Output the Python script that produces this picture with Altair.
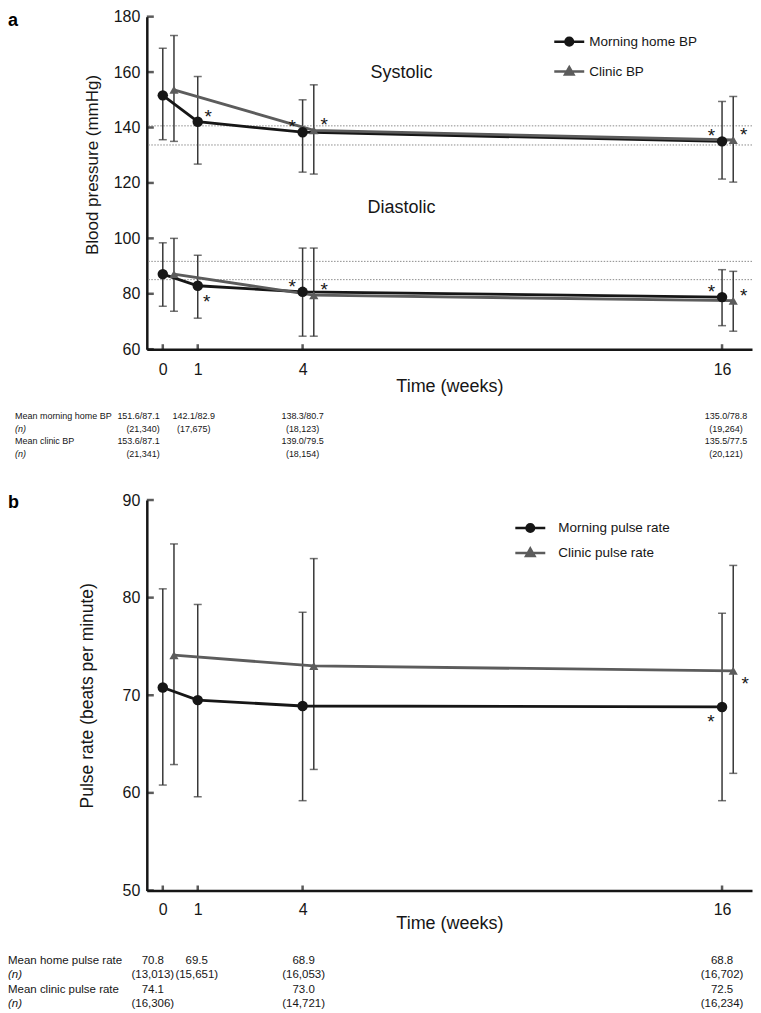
import altair as alt
import pandas as pd

FONT = "Liberation Sans"
INK = "#161616"
GREY = "#5c5c5c"
BAR = "#383838"
REF = "#8c8c8c"

# ---------------- data ----------------
WEEKS = [0, 1, 4, 16]
CLINIC_WEEKS = [0, 4, 16]

# panel a : blood pressure (mmHg), mean and error-bar ends
BP_HOME, BP_CLINIC = "Morning home BP", "Clinic BP"
home_sys_mean = [151.6, 142.1, 138.3, 135.0]
home_sys_lo = [135.6, 126.8, 123.9, 121.4]
home_sys_hi = [168.6, 158.4, 150.0, 149.4]
clinic_sys_mean = [153.6, 139.0, 135.5]
clinic_sys_lo = [135.0, 123.2, 120.3]
clinic_sys_hi = [173.2, 155.4, 151.2]
home_dia_mean = [87.1, 82.9, 80.7, 78.8]
home_dia_lo = [75.5, 71.2, 64.7, 68.5]
home_dia_hi = [98.4, 93.9, 96.5, 88.7]
clinic_dia_mean = [87.1, 79.5, 77.5]
clinic_dia_lo = [73.7, 64.7, 66.5]
clinic_dia_hi = [100.0, 96.5, 88.1]
bp_reference_lines = [140.6, 133.7, 91.7, 85.1]
bp_yticks = [60, 80, 100, 120, 140, 160, 180]
bp_stars = [  # (series, measure, week, side)
    (BP_HOME, "systolic", 1, "ur"), (BP_HOME, "systolic", 4, "ul"),
    (BP_CLINIC, "systolic", 4, "ur"), (BP_HOME, "systolic", 16, "ul"),
    (BP_CLINIC, "systolic", 16, "ur"), (BP_HOME, "diastolic", 1, "dr"),
    (BP_HOME, "diastolic", 4, "ul"), (BP_CLINIC, "diastolic", 4, "ur"),
    (BP_HOME, "diastolic", 16, "ul"), (BP_CLINIC, "diastolic", 16, "ur"),
]
bp_notes = ["Systolic", "Diastolic"]
bp_table_labels = ["Mean morning home BP", "(n)", "Mean clinic BP", "(n)"]
bp_home_txt = ["151.6/87.1", "142.1/82.9", "138.3/80.7", "135.0/78.8"]
bp_home_n = ["(21,340)", "(17,675)", "(18,123)", "(19,264)"]
bp_clinic_txt = ["153.6/87.1", "139.0/79.5", "135.5/77.5"]
bp_clinic_n = ["(21,341)", "(18,154)", "(20,121)"]

# panel b : pulse rate (beats per minute)
PR_HOME, PR_CLINIC = "Morning pulse rate", "Clinic pulse rate"
home_pulse_mean = [70.8, 69.5, 68.9, 68.8]
home_pulse_lo = [60.8, 59.6, 59.2, 59.2]
home_pulse_hi = [80.9, 79.3, 78.5, 78.4]
clinic_pulse_mean = [74.1, 73.0, 72.5]
clinic_pulse_lo = [62.9, 62.4, 62.0]
clinic_pulse_hi = [85.5, 84.0, 83.3]
pr_yticks = [50, 60, 70, 80, 90]
pr_stars = [(PR_HOME, "pulse", 16, "dl"), (PR_CLINIC, "pulse", 16, "r")]
pr_table_labels = ["Mean home pulse rate", "(n)", "Mean clinic pulse rate", "(n)"]
pr_home_txt = ["70.8", "69.5", "68.9", "68.8"]
pr_home_n = ["(13,013)", "(15,651)", "(16,053)", "(16,702)"]
pr_clinic_txt = ["74.1", "73.0", "72.5"]
pr_clinic_n = ["(16,306)", "(14,721)", "(16,234)"]

# ---------------- layout / style ----------------
X_DOMAIN = [-0.457, 16.857]
PLOT_W = 606
DODGE = 0.32
NOTE_AT = {"Systolic": (6.83, 159.5), "Diastolic": (6.83, 110.8)}
STAR_SIZE = 19
STAR_NUDGE = {"ur": (10.5, -5), "ul": (-10.5, -5), "dr": (9, 16.5),
              "r": (12, 13), "dl": (-11, 15)}
SYM_HOME = "M-1.5,0L1.5,0M0.38,0A0.38,0.38,0,1,1,-0.38,0A0.38,0.38,0,1,1,0.38,0Z"
SYM_CLINIC = "M-1.5,0L1.5,0M0,-0.44L0.42,0.3L-0.42,0.3Z"


def series_frame(entries):
    recs = []
    for series, kind, measure, weeks, mean, lo, hi in entries:
        for w, m, l, h in zip(weeks, mean, lo, hi):
            recs.append(dict(series=series, kind=kind, measure=measure,
                             week=w, mean=m, lo=l, hi=h))
    return pd.DataFrame(recs)


def stars_frame(df, stars):
    recs = []
    for series, measure, week, side in stars:
        row = df[(df.series == series) & (df.measure == measure) & (df.week == week)].iloc[0]
        recs.append(dict(series=series, kind=row["kind"], week=week,
                         mean=row["mean"], side=side))
    return pd.DataFrame(recs)


def table_frame(cols):
    recs = []
    for r, (weeks, texts) in enumerate(cols):
        for w, t in zip(weeks, texts):
            recs.append(dict(row=r, week=w, text=t))
    return pd.DataFrame(recs)


bp_df = series_frame([
    (BP_HOME, "home", "systolic", WEEKS, home_sys_mean, home_sys_lo, home_sys_hi),
    (BP_CLINIC, "clinic", "systolic", CLINIC_WEEKS, clinic_sys_mean, clinic_sys_lo, clinic_sys_hi),
    (BP_HOME, "home", "diastolic", WEEKS, home_dia_mean, home_dia_lo, home_dia_hi),
    (BP_CLINIC, "clinic", "diastolic", CLINIC_WEEKS, clinic_dia_mean, clinic_dia_lo, clinic_dia_hi),
])
pr_df = series_frame([
    (PR_HOME, "home", "pulse", WEEKS, home_pulse_mean, home_pulse_lo, home_pulse_hi),
    (PR_CLINIC, "clinic", "pulse", CLINIC_WEEKS, clinic_pulse_mean, clinic_pulse_lo, clinic_pulse_hi),
])
bp_tab = table_frame([(WEEKS, bp_home_txt), (WEEKS, bp_home_n),
                      (CLINIC_WEEKS, bp_clinic_txt), (CLINIC_WEEKS, bp_clinic_n)])
pr_tab = table_frame([(WEEKS, pr_home_txt), (WEEKS, pr_home_n),
                      (CLINIC_WEEKS, pr_clinic_txt), (CLINIC_WEEKS, pr_clinic_n)])


def make_panel(df, series, height, ydom, yticks, ytitle, ytitle_size, ytitle_pad,
               ytitle_y, xlab_pad, xtitle_pad, refs, stars, notes, legend_xy,
               legend_off, legend_rowpad, tab, tab_labels, tab_label_x, tab_rows_y,
               tab_style, tab_size, letter, letter_y):
    xscale = alt.Scale(domain=X_DOMAIN, nice=False, zero=False)
    yscale = alt.Scale(domain=ydom, nice=False, zero=False)
    xaxis = alt.Axis(values=WEEKS, ticks=False, grid=False, domainColor=INK,
                     domainWidth=2.5, labelFont=FONT, labelFontSize=16,
                     labelColor=INK, labelPadding=xlab_pad, labelFlush=False,
                     title="Time (weeks)", titleFont=FONT, titleFontSize=18,
                     titleFontWeight="normal", titleColor=INK,
                     titlePadding=xtitle_pad)
    ykw = {} if ytitle_y is None else {"titleY": ytitle_y}
    yaxis = alt.Axis(values=yticks, ticks=False, grid=False, domainColor=INK,
                     domainWidth=2.5, labelFont=FONT, labelFontSize=16,
                     labelColor=INK, labelPadding=7, labelFlush=False,
                     title=ytitle, titleFont=FONT, titleFontSize=ytitle_size,
                     titleFontWeight="normal", titleColor=INK,
                     titlePadding=ytitle_pad, **ykw)

    def X(f):
        return alt.X(f, scale=xscale, axis=xaxis)

    def Y(f):
        return alt.Y(f, scale=yscale, axis=yaxis)

    dodge = f"datum.week + (datum.kind == 'clinic' ? {DODGE} : 0)"
    base = alt.Chart(df).transform_calculate(xpos=dodge)
    layers = []

    if refs:
        layers.append(alt.Chart(pd.DataFrame({"v": refs})).mark_rule(
            color=REF, strokeWidth=1, strokeDash=[1.5, 1.5]).encode(y=Y("v:Q")))

    layers.append(base.mark_rule(color=BAR, strokeWidth=1.5).encode(
        x=X("xpos:Q"), y=Y("lo:Q"), y2="hi:Q"))
    layers.append(base.transform_fold(["lo", "hi"], as_=["end", "val"]).mark_tick(
        orient="horizontal", size=8, thickness=1.5, color=BAR).encode(
        x=X("xpos:Q"), y=Y("val:Q")))

    colors = [INK, GREY]
    for s, c in zip(series, colors):
        layers.append(base.transform_filter(alt.datum.series == s).mark_line(
            color=c, strokeWidth=2.8).encode(
            x=X("xpos:Q"), y=Y("mean:Q"), detail="measure:N"))

    for s, c, shape, size in zip(series, colors, ["circle", "triangle-up"], [110, 85]):
        layers.append(base.transform_filter(alt.datum.series == s).mark_point(
            filled=True, opacity=1, shape=shape, size=size, strokeWidth=0,
            color=c).encode(x=X("xpos:Q"), y=Y("mean:Q")))

    # legend: driven by fill / stroke / shape scales over the series names
    legend = alt.Legend(
        title=None, orient="none", legendX=legend_xy[0], legendY=legend_xy[1],
        direction="vertical", labelFont=FONT, labelFontSize=13.5, labelColor=INK,
        labelOffset=legend_off, rowPadding=legend_rowpad, symbolSize=400,
        symbolStrokeWidth=2.5, symbolOpacity=1, padding=0, offset=0)
    layers.append(base.transform_filter("false").mark_point(
        strokeWidth=2.5, opacity=1).encode(
        x=X("xpos:Q"), y=Y("mean:Q"),
        fill=alt.Fill("series:N", scale=alt.Scale(domain=series, range=colors), legend=legend),
        stroke=alt.Stroke("series:N", scale=alt.Scale(domain=series, range=colors), legend=legend),
        shape=alt.Shape("series:N", scale=alt.Scale(domain=series, range=[SYM_HOME, SYM_CLINIC]),
                        legend=legend)))

    sdf = stars_frame(df, stars)
    for side, (dx, dy) in STAR_NUDGE.items():
        if side not in set(sdf.side):
            continue
        layers.append(alt.Chart(sdf).transform_filter(alt.datum.side == side)
                      .transform_calculate(xpos=dodge).mark_text(
            text="*", font=FONT, fontSize=STAR_SIZE, color=INK, dx=dx, dy=dy,
            align="center", baseline="middle").encode(
            x=X("xpos:Q"), y=Y("mean:Q")))

    if notes:
        ndf = pd.DataFrame({"t": notes, "w": [NOTE_AT[n][0] for n in notes],
                            "v": [NOTE_AT[n][1] for n in notes]})
        layers.append(alt.Chart(ndf).mark_text(
            font=FONT, fontSize=18, color=INK, align="center",
            baseline="middle").encode(x=X("w:Q"), y=Y("v:Q"), text="t:N"))

    # inward ticks
    layers.append(alt.Chart(pd.DataFrame({"v": yticks})).mark_tick(
        orient="horizontal", size=7, thickness=2.5, color=INK).encode(
        y=Y("v:Q"), x=alt.value(3.5)))
    layers.append(alt.Chart(pd.DataFrame({"w": WEEKS})).mark_tick(
        orient="vertical", size=5, thickness=2.5, color=INK).encode(
        x=X("w:Q"), y=alt.value(height - 2.5)))

    # summary table under the panel
    for r, (lab, yy) in enumerate(zip(tab_labels, tab_rows_y)):
        layers.append(alt.Chart(pd.DataFrame({"t": [lab]})).mark_text(
            align="left", baseline="middle", font=FONT, fontSize=tab_size,
            color=INK, fontStyle="italic" if lab == "(n)" else "normal").encode(
            x=alt.value(tab_label_x), y=alt.value(yy), text="t:N"))
        for w, (align, dx) in tab_style.items():
            layers.append(alt.Chart(tab).transform_filter(
                (alt.datum.row == r) & (alt.datum.week == w)).mark_text(
                align=align, dx=dx, baseline="middle", font=FONT,
                fontSize=tab_size, color=INK).encode(
                x=X("week:Q"), y=alt.value(yy), text="text:N"))

    layers.append(alt.Chart(pd.DataFrame({"t": [letter]})).mark_text(
        align="left", baseline="middle", font=FONT, fontSize=18,
        fontWeight="bold", color="#000").encode(
        x=alt.value(-139), y=alt.value(letter_y), text="t:N"))

    return alt.layer(*layers).properties(width=PLOT_W, height=height)


panel_a = make_panel(
    bp_df, [BP_HOME, BP_CLINIC], 333, [60, 180], bp_yticks,
    "Blood pressure (mmHg)", 17, 12, 148, 12, 0, bp_reference_lines, bp_stars,
    bp_notes, (411.5, 13.5), 8.5, 9, bp_tab, bp_table_labels, -132,
    [400, 412.5, 425, 437.5],
    {0: ("right", -3), 1: ("center", -4), 4: ("center", 0), 16: ("center", 4)},
    9, "a", 4)

panel_b = make_panel(
    pr_df, [PR_HOME, PR_CLINIC], 391, [50, 90], pr_yticks,
    "Pulse rate (beats per minute)", 17.5, 26, None, 11, -3, [], pr_stars, [],
    (372.5, 16.5), 16.5, 4, pr_tab, pr_table_labels, -139,
    [462, 476, 491, 505],
    {0: ("center", -10), 1: ("center", -1), 4: ("center", 1), 16: ("center", 0)},
    11.5, "b", 3)

chart = alt.vconcat(panel_a, panel_b, spacing=151, bounds="flush").resolve_scale(
    x="independent", y="independent", fill="independent", stroke="independent",
    shape="independent"
).resolve_legend(fill="independent", stroke="independent", shape="independent").properties(
    padding={"left": 0, "right": 0, "top": 0, "bottom": 0}
).configure_view(stroke=None)

chart.save("out.html", embed_options={"renderer": "svg", "actions": False})
